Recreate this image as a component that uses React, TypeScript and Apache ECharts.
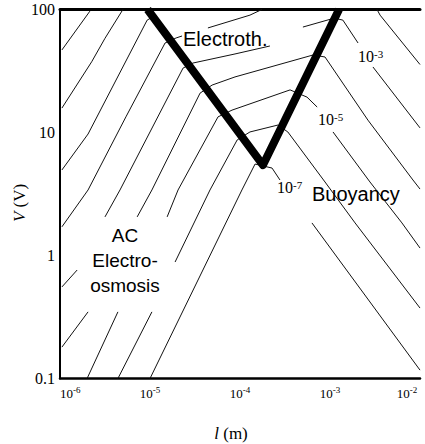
import React, { useEffect, useRef } from "react";
import * as echarts from "echarts";

// ---- tick labels ----
const xTickExponents = [-6, -5, -4, -3, -2];
const yTickLabels = ["0.1", "1", "10", "100"];

// ---- data: [l (m), V (V)]; '-' pairs break a line ----
const G: [string, string] = ["-", "-"];

const boundaryV = [[9.4e-6, 100], [1.8e-4, 5.44], [1.26e-3, 100]];

const contourP1 = [[1.05e-6, 46.9], [2.15e-6, 97]];
const contour0 = [[1.05e-6, 15.8], [2.25e-6, 37.6], [3.16e-6, 58.3], [5.0e-6, 100]];
const contourM1 = [[1.05e-6, 4.96], [2.05e-6, 9.72], [9.3e-6, 82], [1.1e-5, 88]];
const contourM2 = [
  [1.05e-6, 1.71], [2.05e-6, 3.41], [5.4e-6, 13.4], [1.47e-5, 53.4], [1.95e-5, 58.7], [2.27e-5, 60.9], G,
  [4.4e-5, 70.8], [1.29e-4, 90], [1.75e-4, 100], G,
  [3.33e-3, 100], [3.6e-3, 90], [1e-2, 35.7],
];
const contourM3 = [
  [1.05e-6, 0.555], [1.55e-6, 0.762], G,
  [3.16e-6, 2.06], [4.64e-6, 3.41], [2.33e-5, 33.4], [3.0e-5, 36.7], [8.8e-5, 43.5], [2.15e-4, 50.5], G,
  [5.0e-4, 72], [1.11e-3, 85], [1.39e-3, 82], [2.05e-3, 53.4], G,
  [3.0e-3, 34.1], [1e-2, 10.9],
];
const contourM4 = [
  [1.05e-6, 0.18], [2.05e-6, 0.348], G,
  [7.2e-6, 2.06], [1.05e-5, 3.41], [3.6e-5, 20.9], [4.9e-5, 24.3], [8.8e-5, 28.3], [6.5e-4, 42.7],
  [8.8e-4, 41.1], [2.64e-3, 12.6], [8.35e-3, 4.11], [1e-2, 3.47],
];
const contourM5 = [
  [2.0e-6, 0.1], [4.4e-6, 0.348], G,
  [1.55e-5, 2.06], [2.05e-5, 3.41], [5.7e-5, 13.4], [8.15e-5, 15.2], [3.6e-4, 22.2], [5.55e-4, 19.4],
  [7.2e-4, 16.1], G,
  [1.08e-3, 10.1], [2.78e-3, 3.96], [6.3e-3, 1.84], [1e-2, 1.15],
];
const contourM6 = [
  [4.4e-6, 0.1], [1.05e-5, 0.348], G,
  [1.9e-5, 0.885], [4.64e-5, 3.41], [9.3e-5, 8.7], [1.29e-4, 10.1], [2.64e-4, 11.5], [3.4e-4, 10.1],
  [8.8e-4, 3.96], [1.9e-3, 1.84], [1e-2, 0.374],
];
const contourM7 = [
  [1.0e-5, 0.1], [1.05e-4, 3.41], [1.47e-4, 5.54], [2.27e-4, 5.14], [2.78e-4, 4.11], G,
  [6.3e-4, 1.84], [1e-2, 0.117],
];

const contours = [contourP1, contour0, contourM1, contourM2, contourM3, contourM4, contourM5, contourM6, contourM7];

// ---- annotation texts ----
const regionLabels = { electroth: "Electroth.", buoyancy: "Buoyancy", aceo: "AC\nElectro-\nosmosis" };
const contourLabels = ["-3", "-5", "-7"];

const SERIF = '"Liberation Serif", "Times New Roman", serif';
const SANS = '"Liberation Sans", Arial, sans-serif';

function txt(x: number, y: number, text: string, font: string, align: string, extra: any = {}, rotation = 0) {
  return {
    type: "text",
    x,
    y,
    rotation,
    z: 100,
    style: {
      text,
      fill: "#000",
      font,
      align,
      textAlign: align,
      verticalAlign: "middle",
      textVerticalAlign: "middle",
      ...extra,
    },
  };
}

const supRich = {
  b: { fontSize: 16, lineHeight: 16, fontFamily: "Liberation Serif" },
  s: { fontSize: 11, lineHeight: 11, fontFamily: "Liberation Serif", verticalAlign: "top" },
};

export default function App() {
  const ref = useRef<HTMLDivElement>(null);
  useEffect(() => {
    document.body.style.margin = "0";
    const chart = echarts.init(ref.current!, undefined, { renderer: "svg" });
    const thin = contours.map((c) => ({
      type: "line",
      data: c,
      xAxisIndex: 0,
      yAxisIndex: 0,
      showSymbol: false,
      symbol: "none",
      silent: true,
      connectNulls: false,
      z: 2,
      lineStyle: { color: "#111", width: 1 },
    }));
    const lastExp = xTickExponents[xTickExponents.length - 1];
    chart.setOption({
      animation: false,
      backgroundColor: "#fff",
      textStyle: { fontFamily: SERIF, color: "#000" },
      grid: { left: 60, right: 5, top: 9.5, bottom: 65.5, outerBoundsMode: "none", containLabel: false },
      xAxis: [
        {
          type: "log",
          logBase: 10,
          min: 1e-6,
          max: 1e-2,
          position: "bottom",
          axisLine: { show: true, onZero: false, lineStyle: { color: "#000", width: 2.5 } },
          axisTick: { show: false },
          minorTick: { show: false },
          splitLine: { show: false },
          axisLabel: {
            margin: 7,
            alignMinLabel: "left",
            formatter: (v: number) => {
              const e = Math.round(Math.log10(v));
              if (!xTickExponents.includes(e)) return "";
              return e === lastExp ? `{b|10}{e|${e}}` : `{b|10}{s|${e}}`;
            },
            rich: {
              b: { fontSize: 13, lineHeight: 15, fontFamily: "Liberation Serif", color: "#000" },
              s: { fontSize: 9, lineHeight: 9, fontFamily: "Liberation Serif", color: "#000", verticalAlign: "top" },
              e: {
                fontSize: 9, lineHeight: 9, fontFamily: "Liberation Serif", color: "#000", verticalAlign: "top",
                padding: [0, 26, 0, 0],
              },
            },
          },
        },
        {
          type: "log",
          logBase: 10,
          min: 1e-6,
          max: 1e-2,
          position: "top",
          axisLine: { show: true, onZero: false, lineStyle: { color: "#000", width: 3 } },
          axisTick: { show: false },
          axisLabel: { show: false },
          splitLine: { show: false },
        },
      ],
      yAxis: {
        type: "log",
        logBase: 10,
        min: 0.1,
        max: 100,
        axisLine: { show: true, onZero: false, lineStyle: { color: "#000", width: 2 } },
        axisTick: { show: false },
        splitLine: { show: false },
        axisLabel: {
          margin: 5,
          fontFamily: "Liberation Serif",
          fontSize: 16,
          color: "#000",
          formatter: (v: number) => yTickLabels[Math.round(Math.log10(v)) + 1] ?? "",
        },
      },
      series: [
        ...thin,
        {
          type: "line",
          data: boundaryV,
          xAxisIndex: 0,
          yAxisIndex: 0,
          showSymbol: false,
          symbol: "none",
          silent: true,
          z: 3,
          lineStyle: { color: "#000", width: 8, join: "round", cap: "butt" },
        },
      ],
      graphic: [
        txt(183, 39, regionLabels.electroth, `20px ${SANS}`, "left"),
        txt(312, 194, regionLabels.buoyancy, `20px ${SANS}`, "left"),
        txt(125, 260, regionLabels.aceo, `19px ${SANS}`, "center", { lineHeight: 25 }),
        txt(358, 56, `{b|10}{s|${contourLabels[0]}}`, `16px ${SERIF}`, "left", { rich: supRich }),
        txt(318, 119, `{b|10}{s|${contourLabels[1]}}`, `16px ${SERIF}`, "left", { rich: supRich }),
        txt(277, 187, `{b|10}{s|${contourLabels[2]}}`, `16px ${SERIF}`, "left", { rich: supRich }),
        txt(19, 203, "{i|V} (V)", `17px ${SERIF}`, "center", {
          rich: { i: { fontStyle: "italic", fontSize: 17, fontFamily: "Liberation Serif" } },
        }, Math.PI / 2),
        txt(231, 433, "{i|l} (m)", `17px ${SERIF}`, "center", {
          rich: { i: { fontStyle: "italic", fontSize: 17, fontFamily: "Liberation Serif" } },
        }),
      ],
    });
    return () => chart.dispose();
  }, []);
  return <div ref={ref} style={{ width: 425, height: 444 }} />;
}
